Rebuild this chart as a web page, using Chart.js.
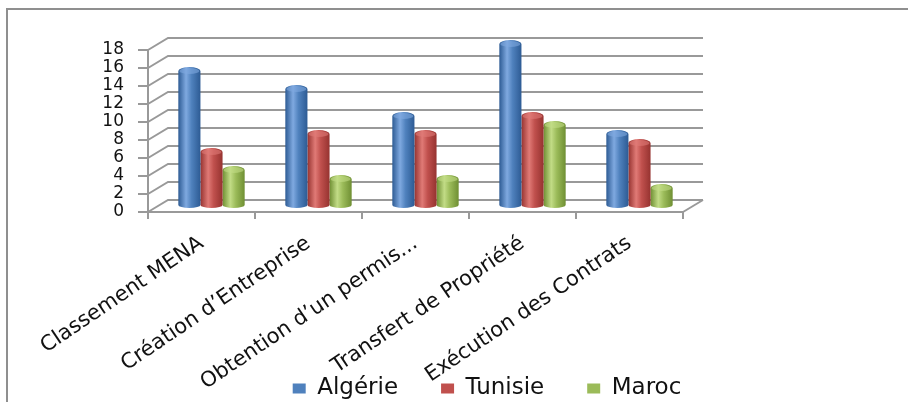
<!DOCTYPE html>
<html>
<head>
<meta charset="utf-8">
<script src="https://cdn.jsdelivr.net/npm/chart.js@4/dist/chart.umd.min.js"></script>
<style>
  html, body { margin: 0; background: #fff; overflow: hidden; }
  #wrap { position: relative; width: 908px; height: 402px; overflow: hidden; }
  #frame { position: absolute; left: 6px; top: 8px; width: 920px; height: 420px;
           border-top: 2px solid #8f8f8f; border-left: 2px solid #8f8f8f; }
  canvas { position: absolute; left: 0; top: 0; }
</style>
</head>
<body>
<div id="wrap">
  <div id="frame"></div>
  <canvas id="chart-bars"></canvas>
</div>
<script>
//data
const categories = ['Classement MENA', 'Création d’Entreprise', 'Obtention d’un permis...', 'Transfert de Propriété', 'Exécution des Contrats'];
const algerie = [15, 13, 10, 18, 8];
const tunisie = [6, 8, 8, 10, 7];
const maroc = [4, 3, 3, 9, 2];
const yTicks = [0, 18, 2]; // min, max, step

const COLORS = {
    blue: '#4f81bd',
    red: '#c0504d',
    green: '#9bbb59',
    grid: '#999999',
};
// dark edge, highlight, for the cylinder look
const SHADES = {
    '#4f81bd': ['#2d5b94', '#7fa9e0'],
    '#c0504d': ['#963330', '#e07a76'],
    '#9bbb59': ['#6f8f33', '#c2dc86'],
};

// depth of the 3d box (back wall offset)
const DX = 20, DY = -12;

function cylGradient(ctx, x0, x1, base) {
    const s = SHADES[base];
    const g = ctx.createLinearGradient(x0, 0, x1, 0);
    g.addColorStop(0, s[0]);
    g.addColorStop(0.35, s[1]);
    g.addColorStop(0.6, base);
    g.addColorStop(1, s[0]);
    return g;
}

const fake3d = {
    id: 'fake3d',
    afterLayout(chart) {
        // rotated labels run down past the axis box, don't let them get clipped
        chart.scales.x.bottom = chart.height;
    },
    beforeDatasetsDraw(chart) {
        const {ctx, chartArea: a, scales: {y}} = chart;
        ctx.save();
        ctx.strokeStyle = COLORS.grid;
        ctx.lineWidth = 2;
        y.ticks.forEach(t => {
            const py = y.getPixelForValue(t.value);
            ctx.beginPath();
            ctx.moveTo(a.left, py);
            ctx.lineTo(a.left + DX, py + DY);
            ctx.lineTo(a.right + DX, py + DY);
            ctx.stroke();
        });
        ctx.beginPath();
        ctx.moveTo(a.right, a.bottom);
        ctx.lineTo(a.right + DX, a.bottom + DY);
        ctx.stroke();
        ctx.restore();

        // bars sit halfway into the box
        ctx.save();
        ctx.translate(DX / 2, DY / 2);
        chart.getSortedVisibleDatasetMetas().forEach(meta => {
            const base = chart.data.datasets[meta.index].backgroundColor;
            meta.data.forEach(el => {
                const g = cylGradient(ctx, el.x - el.width / 2, el.x + el.width / 2, base);
                el.options = Object.assign({}, el.options, {backgroundColor: g});
            });
        });
    },
    afterDatasetsDraw(chart) {
        const ctx = chart.ctx;
        chart.getSortedVisibleDatasetMetas().forEach(meta => {
            const base = chart.data.datasets[meta.index].backgroundColor;
            meta.data.forEach(el => {
                const rx = el.width / 2;
                ctx.fillStyle = cylGradient(ctx, el.x - rx, el.x + rx, base);
                ctx.beginPath();
                ctx.ellipse(el.x, el.base, rx, 3, 0, 0, Math.PI);
                ctx.fill();
                ctx.beginPath();
                ctx.ellipse(el.x, el.y, rx, 4, 0, Math.PI, 2 * Math.PI);
                ctx.fill();
                ctx.fillStyle = SHADES[base][1];
                ctx.globalAlpha = 0.6;
                ctx.beginPath();
                ctx.ellipse(el.x, el.y, rx - 1, 3, 0, 0, 2 * Math.PI);
                ctx.fill();
                ctx.globalAlpha = 1;
            });
        });
        ctx.restore();
    }
};

Chart.defaults.font.family = '"DejaVu Sans", sans-serif';
Chart.defaults.color = '#111111';

const PAD_BOTTOM = -8;
const AXIS_Y0 = 212; // pixel row of the front floor edge

const config_bars = {
    type: 'bar',
    data: {
        labels: categories,
        datasets: [
            {label: 'Algérie', data: algerie, backgroundColor: COLORS.blue},
            {label: 'Tunisie', data: tunisie, backgroundColor: COLORS.red},
            {label: 'Maroc', data: maroc, backgroundColor: COLORS.green},
        ]
    },
    options: {
        responsive: true,
        maintainAspectRatio: false,
        animation: false,
        categoryPercentage: 0.62,
        barPercentage: 1,
        borderWidth: 0,
        layout: {padding: {left: 0, right: -66, top: 50, bottom: PAD_BOTTOM}},
        scales: {
            x: {
                grid: {display: true, drawOnChartArea: false, offset: true, tickLength: 7, color: COLORS.grid, lineWidth: 2},
                border: {display: true, color: COLORS.grid, width: 2},
                ticks: {minRotation: 34, maxRotation: 34, autoSkip: false, padding: 12, font: {size: 21}},
                afterFit(s) {
                    const lh = s.chart.legend ? s.chart.legend.height : 0;
                    s.height = 402 - AXIS_Y0 - lh - PAD_BOTTOM;
                }
            },
            y: {
                min: yTicks[0],
                max: yTicks[1],
                grid: {display: true, drawOnChartArea: false, tickLength: 10, color: COLORS.grid, lineWidth: 2},
                border: {display: true, color: COLORS.grid, width: 2},
                ticks: {stepSize: yTicks[2], autoSkip: false, padding: 14, font: {size: 17}},
                afterFit(s) { s.width = 148; }
            },
            y2: {
                position: 'right',
                grid: {display: false},
                border: {display: false},
                ticks: {display: false},
                afterFit(s) { s.width = 291; }
            }
        },
        plugins: {
            legend: {
                position: 'bottom',
                labels: {boxWidth: 13, boxHeight: 10, padding: 43, font: {size: 23}}
            },
            tooltip: {enabled: false}
        }
    },
    plugins: [fake3d]
};

//render
var bars = new Chart(
    document.getElementById('chart-bars'),
    config_bars
);
</script>
</body>
</html>
